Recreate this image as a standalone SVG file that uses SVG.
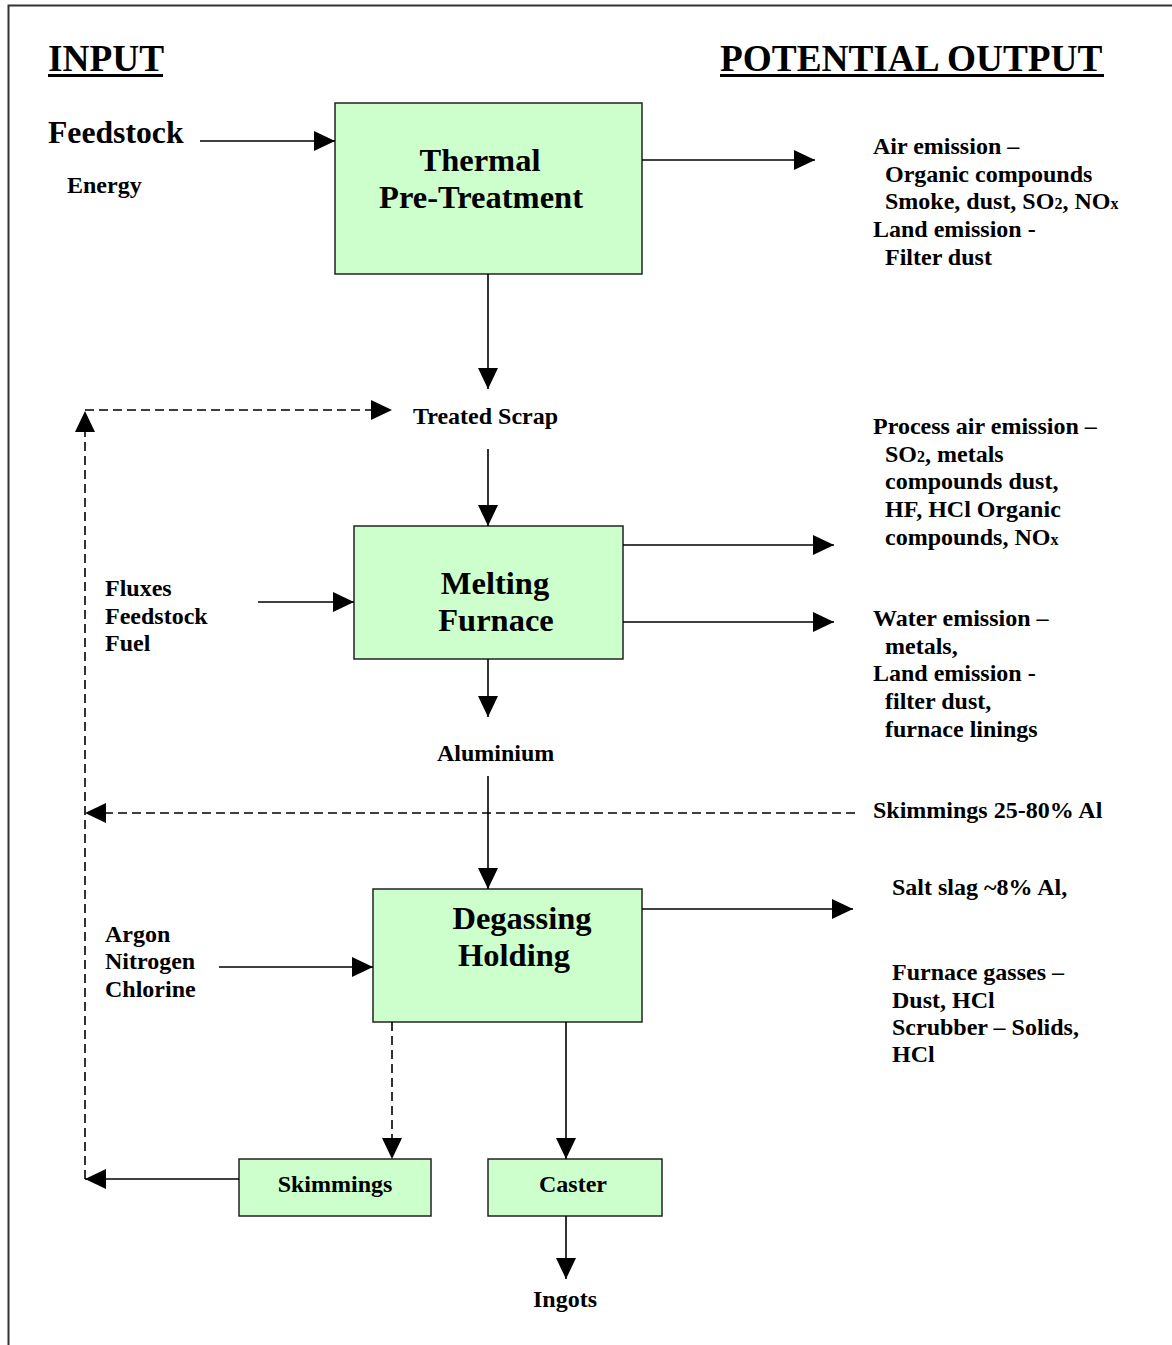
<svg xmlns="http://www.w3.org/2000/svg" width="1172" height="1345" viewBox="0 0 1172 1345">
<defs>
<style>
text{font-family:"Liberation Serif","Times New Roman",serif;font-weight:bold;fill:#000}
.h{font-size:37.3px}
.t{font-size:32.5px}
.s{font-size:24px}
.sub{font-size:16px}
.box{fill:#ccffcc;stroke:#222;stroke-width:1.5}
.c{stroke:#000;stroke-width:1.6;fill:none}
.d{stroke:#000;stroke-width:1.6;fill:none;stroke-dasharray:9 5}
</style>
<marker id="a" markerUnits="userSpaceOnUse" markerWidth="22" markerHeight="20" refX="21" refY="10" orient="auto">
<path d="M0,0 L21,10 L0,20 Z" fill="#000"/>
</marker>
</defs>
<rect width="1172" height="1345" fill="#fff"/>
<path d="M8.5,1345 V5.5 H1172" fill="none" stroke="#333" stroke-width="2"/>

<g id="headers">
<text class="h" x="48" y="71">INPUT</text>
<rect x="48" y="74" width="115" height="3" fill="#000"/>
<text class="h" x="720" y="71">POTENTIAL OUTPUT</text>
<rect x="720" y="74" width="384" height="3" fill="#000"/>
</g>

<g id="inputs">
<text x="48" y="143" style="font-size:31.7px">Feedstock</text>
<text class="s" x="67" y="193">Energy</text>
<text class="s" x="105" y="596">Fluxes</text>
<text class="s" x="105" y="624">Feedstock</text>
<text class="s" x="105" y="651">Fuel</text>
<text class="s" x="105" y="942">Argon</text>
<text class="s" x="105" y="969">Nitrogen</text>
<text class="s" x="105" y="997">Chlorine</text>
</g>

<g id="thermal">
<rect class="box" x="335" y="103" width="307" height="171"/>
<text class="t" x="480" y="171" text-anchor="middle">Thermal</text>
<text class="t" x="481" y="208" text-anchor="middle">Pre-Treatment</text>
</g>

<g id="treated-scrap"><text class="s" x="413" y="424">Treated Scrap</text></g>

<g id="melting">
<rect class="box" x="354" y="526" width="269" height="133"/>
<text class="t" x="495" y="594" text-anchor="middle">Melting</text>
<text class="t" x="496" y="631" text-anchor="middle">Furnace</text>
</g>

<g id="aluminium"><text class="s" x="437" y="761">Aluminium</text></g>

<g id="degassing">
<rect class="box" x="373" y="889" width="269" height="133"/>
<text class="t" x="522" y="929" text-anchor="middle">Degassing</text>
<text class="t" x="514" y="966" text-anchor="middle">Holding</text>
</g>

<g id="skimmings">
<rect class="box" x="239" y="1159" width="192" height="57"/>
<text class="s" x="335" y="1192" text-anchor="middle">Skimmings</text>
</g>

<g id="caster">
<rect class="box" x="488" y="1159" width="174" height="57"/>
<text class="s" x="573" y="1192" text-anchor="middle">Caster</text>
</g>

<g id="ingots"><text class="s" x="565" y="1307" text-anchor="middle">Ingots</text></g>

<g id="outputs">
<text class="s" x="873" y="154">Air emission –</text>
<text class="s" x="885" y="182">Organic compounds</text>
<text class="s" x="885" y="209">Smoke, dust, SO<tspan class="sub">2</tspan>, NO<tspan class="sub">x</tspan></text>
<text class="s" x="873" y="237">Land emission -</text>
<text class="s" x="885" y="265">Filter dust</text>

<text class="s" x="873" y="434">Process air emission –</text>
<text class="s" x="885" y="462">SO<tspan class="sub">2</tspan>, metals</text>
<text class="s" x="885" y="489">compounds dust,</text>
<text class="s" x="885" y="517">HF, HCl Organic</text>
<text class="s" x="885" y="545">compounds, NO<tspan class="sub">x</tspan></text>

<text class="s" x="873" y="626">Water emission –</text>
<text class="s" x="885" y="654">metals,</text>
<text class="s" x="873" y="681">Land emission -</text>
<text class="s" x="885" y="709">filter dust,</text>
<text class="s" x="885" y="737">furnace linings</text>

<text class="s" x="873" y="818">Skimmings 25-80% Al</text>

<text class="s" x="892" y="895">Salt slag ~8% Al,</text>
<text class="s" x="892" y="980">Furnace gasses –</text>
<text class="s" x="892" y="1008">Dust, HCl</text>
<text class="s" x="892" y="1035">Scrubber – Solids,</text>
<text class="s" x="892" y="1062">HCl</text>
</g>

<g id="connectors">
<line class="c" x1="200" y1="141" x2="335" y2="141" marker-end="url(#a)"/>
<line class="c" x1="642" y1="160" x2="815" y2="160" marker-end="url(#a)"/>
<line class="c" x1="488" y1="274" x2="488" y2="389" marker-end="url(#a)"/>
<line class="d" x1="85" y1="1179" x2="85" y2="411" marker-end="url(#a)"/>
<line class="d" x1="85" y1="410" x2="392" y2="410" marker-end="url(#a)"/>
<line class="c" x1="488" y1="449" x2="488" y2="526" marker-end="url(#a)"/>
<line class="c" x1="258" y1="602" x2="354" y2="602" marker-end="url(#a)"/>
<line class="c" x1="623" y1="545" x2="834" y2="545" marker-end="url(#a)"/>
<line class="c" x1="623" y1="622" x2="834" y2="622" marker-end="url(#a)"/>
<line class="c" x1="488" y1="659" x2="488" y2="717" marker-end="url(#a)"/>
<line class="c" x1="488" y1="776" x2="488" y2="889" marker-end="url(#a)"/>
<line class="d" x1="855" y1="813" x2="85" y2="813" marker-end="url(#a)"/>
<line class="c" x1="642" y1="909" x2="853" y2="909" marker-end="url(#a)"/>
<line class="c" x1="219" y1="967" x2="373" y2="967" marker-end="url(#a)"/>
<line class="d" x1="392" y1="1022" x2="392" y2="1159" marker-end="url(#a)"/>
<line class="c" x1="566" y1="1022" x2="566" y2="1159" marker-end="url(#a)"/>
<line class="c" x1="239" y1="1179" x2="85" y2="1179" marker-end="url(#a)"/>
<line class="c" x1="566" y1="1216" x2="566" y2="1279" marker-end="url(#a)"/>
</g>
</svg>
